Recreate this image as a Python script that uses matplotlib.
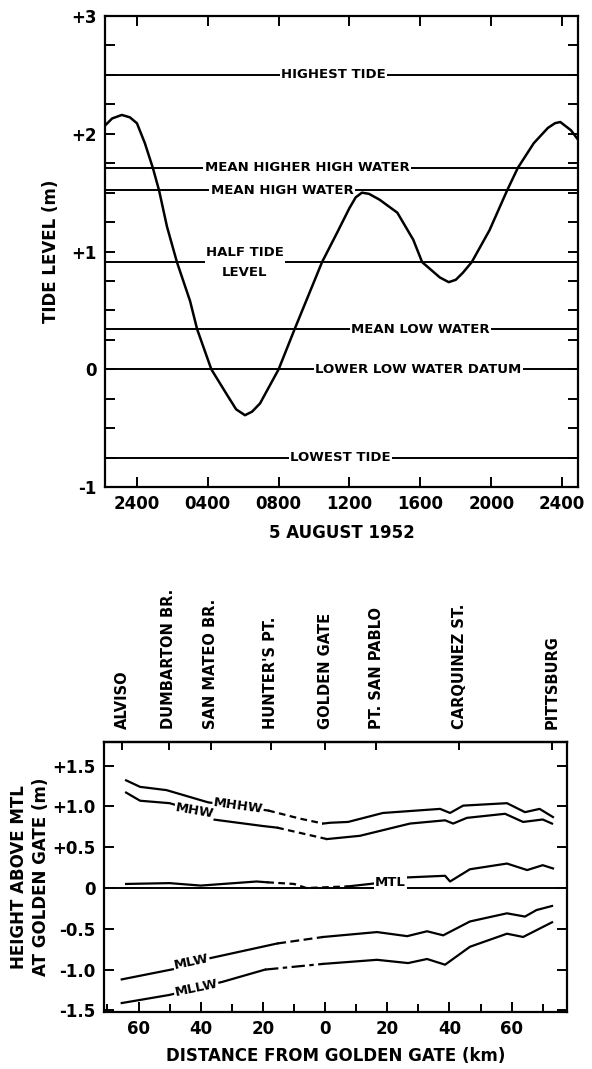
import numpy as np
from matplotlib import pyplot as plt

# ---- top panel: tide on 5 August 1952 ----
tide_hours = [-1.8, -1.4, -0.85, -0.4, 0.0, 0.45, 0.9, 1.25, 1.7, 2.26, 3.0, 3.4, 4.2, 5.1,
              5.6, 6.1, 6.5, 6.95, 8.0, 8.9, 10.45, 11.3, 12.0, 12.35, 12.7, 13.1, 13.7,
              14.7, 15.6, 16.1, 17.1, 17.6, 18.0, 18.4, 18.9, 19.9, 20.9, 21.5, 22.4,
              23.2, 23.6, 23.9, 24.5, 24.9]
tide_level = [2.07, 2.13, 2.16, 2.14, 2.09, 1.92, 1.71, 1.52, 1.21, 0.91, 0.58, 0.34, 0.0, -0.22,
              -0.34, -0.39, -0.36, -0.29, 0.0, 0.34, 0.91, 1.16, 1.37, 1.46, 1.50, 1.49, 1.44,
              1.33, 1.10, 0.91, 0.78, 0.74, 0.76, 0.82, 0.91, 1.18, 1.52, 1.71, 1.92,
              2.05, 2.09, 2.10, 2.03, 1.95]

datum_names = ['HIGHEST TIDE', 'MEAN HIGHER HIGH WATER', 'MEAN HIGH WATER',
               'HALF TIDE\nLEVEL', 'MEAN LOW WATER', 'LOWER LOW WATER DATUM', 'LOWEST TIDE']
datum_levels = [2.5, 1.71, 1.52, 0.91, 0.34, 0.0, -0.75]
datum_label_hour = [11.1, 9.6, 8.2, 6.1, 16.0, 15.9, 11.5]

hour_ticks = [0, 4, 8, 12, 16, 20, 24]
hour_labels = ['2400', '0400', '0800', '1200', '1600', '2000', '2400']
level_ticks = [-1, 0, 1, 2, 3]
level_labels = ['-1', '0', '+1', '+2', '+3']

# ---- bottom panel: tidal planes along the bay ----
places = ['ALVISO', 'DUMBARTON BR.', 'SAN MATEO BR.', "HUNTER'S PT.", 'GOLDEN GATE',
          'PT. SAN PABLO', 'CARQUINEZ ST.', 'PITTSBURG']
place_km = [-65.3, -50.2, -36.7, -17.4, 0.0, 16.4, 43.1, 73.0]

mhhw_km = [-64, -59.5, -51, -37.6, -28, -18.3, -8, -0.6, 1.6, 7.4, 18.6, 37, 40.2, 44.4, 58.5, 64.3, 69, 73.3]
mhhw = [1.32, 1.24, 1.20, 1.05, 1.0, 0.95, 0.85, 0.79, 0.80, 0.81, 0.92, 0.97, 0.92, 1.01, 1.04, 0.93, 0.97, 0.87]
mhw_km = [-64, -59.5, -50, -42, -36, -20, -15.4, 0.6, 11.2, 27.3, 38.6, 41.2, 45.6, 57.9, 63.7, 70, 73]
mhw = [1.17, 1.07, 1.04, 0.95, 0.84, 0.76, 0.74, 0.60, 0.64, 0.79, 0.83, 0.79, 0.86, 0.91, 0.81, 0.84, 0.79]
mtl_km = [-64, -50, -40, -22, -18.6, -10, -6, 7.4, 14.5, 21, 26.4, 38.6, 40.2, 46.6, 58.5, 65, 70, 73.3]
mtl = [0.05, 0.06, 0.03, 0.08, 0.07, 0.05, 0.0, 0.02, 0.05, 0.08, 0.13, 0.15, 0.08, 0.23, 0.30, 0.22, 0.28, 0.24]
mlw_km = [-65.4, -48.2, -43, -37, -15.4, -0.6, 16.7, 26.4, 32.8, 38, 46.6, 58.5, 64.3, 68, 73]
mlw = [-1.12, -0.99, -0.92, -0.86, -0.68, -0.60, -0.54, -0.59, -0.53, -0.58, -0.41, -0.31, -0.35, -0.27, -0.22]
mllw_km = [-65.4, -50, -41.5, -33, -19.3, -0.6, 16.7, 26.7, 32.8, 38.6, 46.6, 58.5, 63.7, 73]
mllw = [-1.41, -1.31, -1.23, -1.15, -1.00, -0.93, -0.88, -0.92, -0.87, -0.94, -0.72, -0.56, -0.60, -0.42]

dist_ticks = [-60, -40, -20, 0, 20, 40, 60]
dist_labels = ['60', '40', '20', '0', '20', '40', '60']
height_ticks = [-1.5, -1.0, -0.5, 0, 0.5, 1.0, 1.5]
height_labels = ['-1.5', '-1.0', '-0.5', '0', '+0.5', '+1.0', '+1.5']

plt.rcParams['font.family'] = 'DejaVu Sans'
plt.rcParams['font.weight'] = 'bold'
plt.rcParams['axes.linewidth'] = 1.6

fig = plt.figure(figsize=(5.92, 10.69), dpi=100)

# top panel
ax1 = fig.add_axes([0.1774, 0.5444, 0.799, 0.4406])
for lev, name, hr in zip(datum_levels, datum_names, datum_label_hour):
    ax1.axhline(lev, color='black', lw=1.4, zorder=1)
    ax1.text(hr, lev, name, ha='center', va='center', fontsize=9.5, fontweight='bold',
             linespacing=1.7, zorder=2,
             bbox=dict(facecolor='white', edgecolor='none', pad=1.0))
ax1.plot(tide_hours, tide_level, color='black', lw=1.8, zorder=3)
ax1.set_xlim(-1.8, 24.9)
ax1.set_ylim(-1, 3)
ax1.set_xticks(hour_ticks)
ax1.set_xticklabels(hour_labels)
ax1.set_yticks(level_ticks)
ax1.set_yticklabels(level_labels)
ax1.set_yticks(np.arange(-1, 3.01, 0.25), minor=True)
ax1.tick_params(direction='in', top=True, right=True, length=7, width=1.4,
                labelsize=12, pad=6)
ax1.tick_params(which='minor', direction='in', left=True, right=True, length=7, width=1.4)
ax1.set_ylabel('TIDE LEVEL (m)', fontsize=12, fontweight='bold', labelpad=8)
ax1.set_xlabel('5 AUGUST 1952', fontsize=12, fontweight='bold', labelpad=8)


def draw_plane(ax, km, vals, dash_from, dash_to, dash_style):
    km = np.array(km)
    vals = np.array(vals)
    left = km <= dash_from
    mid = (km >= dash_from) & (km <= dash_to)
    right = km >= dash_to
    ax.plot(km[left], vals[left], color='black', lw=1.6, zorder=3)
    ax.plot(km[mid], vals[mid], color='black', lw=1.6, ls=dash_style, zorder=3)
    ax.plot(km[right], vals[right], color='black', lw=1.6, zorder=3)


# bottom panel
ax2 = fig.add_axes([0.1757, 0.0533, 0.782, 0.2526])
ax2.axhline(0, color='black', lw=1.4, zorder=1)
draw_plane(ax2, mhhw_km, mhhw, -18.3, -0.6, (0, (3, 2)))
draw_plane(ax2, mhw_km, mhw, -15.4, 0.6, (0, (3, 2)))
draw_plane(ax2, mtl_km, mtl, -18.6, 7.4, (0, (3, 2)))
draw_plane(ax2, mlw_km, mlw, -15.4, -0.6, (0, (4, 2)))
draw_plane(ax2, mllw_km, mllw, -19.3, -0.6, (0, (6, 2, 2, 2)))

lab_kw = dict(ha='center', va='center', fontsize=9.5, fontweight='bold', zorder=4,
              bbox=dict(facecolor='white', edgecolor='none', pad=0.6))
ax2.text(-28, 1.0, 'MHHW', rotation=-8, **lab_kw)
ax2.text(-42, 0.95, 'MHW', rotation=-10, **lab_kw)
ax2.text(21, 0.07, 'MTL', **lab_kw)
ax2.text(-43, -0.91, 'MLW', rotation=12, **lab_kw)
ax2.text(-41.5, -1.22, 'MLLW', rotation=12, **lab_kw)

ax2.set_xlim(-71.1, 77.8)
ax2.set_ylim(-1.52, 1.79)
ax2.set_xticks(dist_ticks)
ax2.set_xticklabels(dist_labels)
ax2.set_xticks(np.arange(-70, 71, 10), minor=True)
ax2.set_yticks(height_ticks)
ax2.set_yticklabels(height_labels)
ax2.tick_params(direction='in', right=True, length=7, width=1.4, labelsize=12, pad=6)
ax2.tick_params(which='minor', direction='in', length=6, width=1.4)
ax2.set_xlabel('DISTANCE FROM GOLDEN GATE (km)', fontsize=12, fontweight='bold', labelpad=6)
ax2.set_ylabel('HEIGHT ABOVE MTL\nAT GOLDEN GATE (m)', fontsize=12, fontweight='bold',
               labelpad=2, linespacing=1.25)

top = ax2.secondary_xaxis('top')
top.set_xticks(place_km)
top.set_xticklabels(places, rotation=90, fontsize=10.5, fontweight='bold')
top.tick_params(direction='in', length=6, width=1.4, pad=9)

fig.savefig('out.png', dpi=100)
